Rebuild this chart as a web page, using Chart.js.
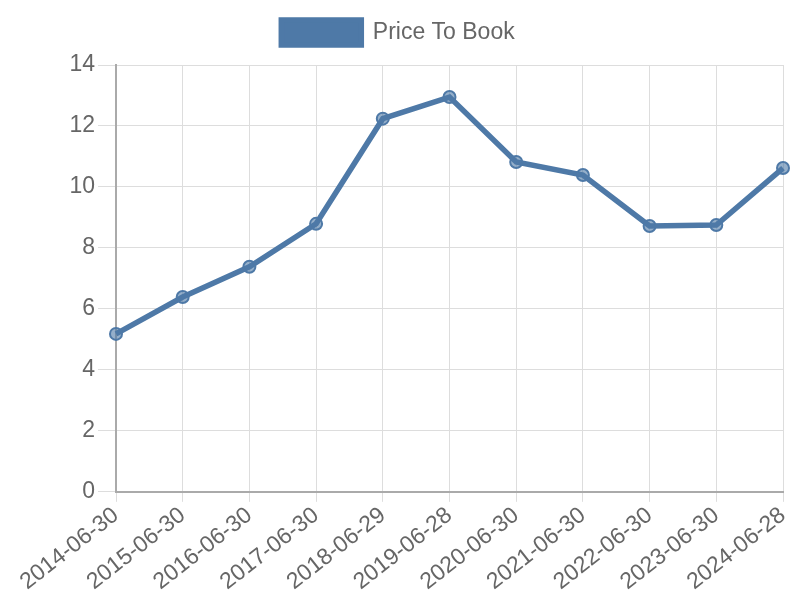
<!DOCTYPE html>
<html><head><meta charset="utf-8">
<script src="https://cdn.jsdelivr.net/npm/chart.js@4/dist/chart.umd.min.js"></script>
<style>html,body{margin:0;padding:0;background:#fff}#wrap{width:800px;height:600px}</style>
</head><body><div id="wrap"><canvas id="c" width="800" height="600"></canvas></div>
<script>
const categories = ["2014-06-30","2015-06-30","2016-06-30","2017-06-30","2018-06-29","2019-06-28","2020-06-30","2021-06-30","2022-06-30","2023-06-30","2024-06-28"];
const priceToBook = [5.18, 6.39, 7.38, 8.79, 12.24, 12.95, 10.82, 10.39, 8.72, 8.75, 10.62];
const yTicks = [0, 2, 4, 6, 8, 10, 12, 14];
const color = "#4e79a7";
Chart.defaults.font.family = "'Liberation Sans', Arial, sans-serif";
Chart.defaults.color = "#666";
const legendSpace = { id: "legendSpace", beforeInit(chart) {
  const orig = chart.legend.fit;
  chart.legend.fit = function () { orig.call(this); this.height += 10; };
} };
new Chart(document.getElementById("c"), {
  type: "line",
  data: { labels: categories, datasets: [{
    label: "Price To Book", data: priceToBook,
    borderColor: color, backgroundColor: color, borderWidth: 5.5,
    pointRadius: 6, pointBorderWidth: 2, pointBackgroundColor: "rgba(78,121,167,0.6)", pointBorderColor: color,
    tension: 0, fill: false
  }]},
  plugins: [legendSpace],
  options: {
    responsive: false, animation: false,
    layout: { padding: { left: 10, right: 14, top: 0, bottom: 4 } },
    plugins: { legend: { labels: { boxWidth: 80, boxHeight: 25, font: { size: 23 }, padding: 20 } }, tooltip: { enabled: false } },
    scales: {
      x: { grid: { color: "#ddd", lineWidth: 1, tickLength: 10 }, border: { color: "#aaa", width: 2 },
           ticks: { font: { size: 23 }, maxRotation: 38, minRotation: 38, padding: 0 } },
      y: { min: 0, max: 14, afterBuildTicks: ax => { ax.ticks = yTicks.map(v => ({ value: v })); },
           afterFit: ax => { ax.width = 106; },
           grid: { color: "#ddd", tickLength: 18 }, border: { color: "#aaa", width: 2 },
           ticks: { font: { size: 23 }, stepSize: 2, padding: 3 } }
    }
  }
});
</script></body></html>
